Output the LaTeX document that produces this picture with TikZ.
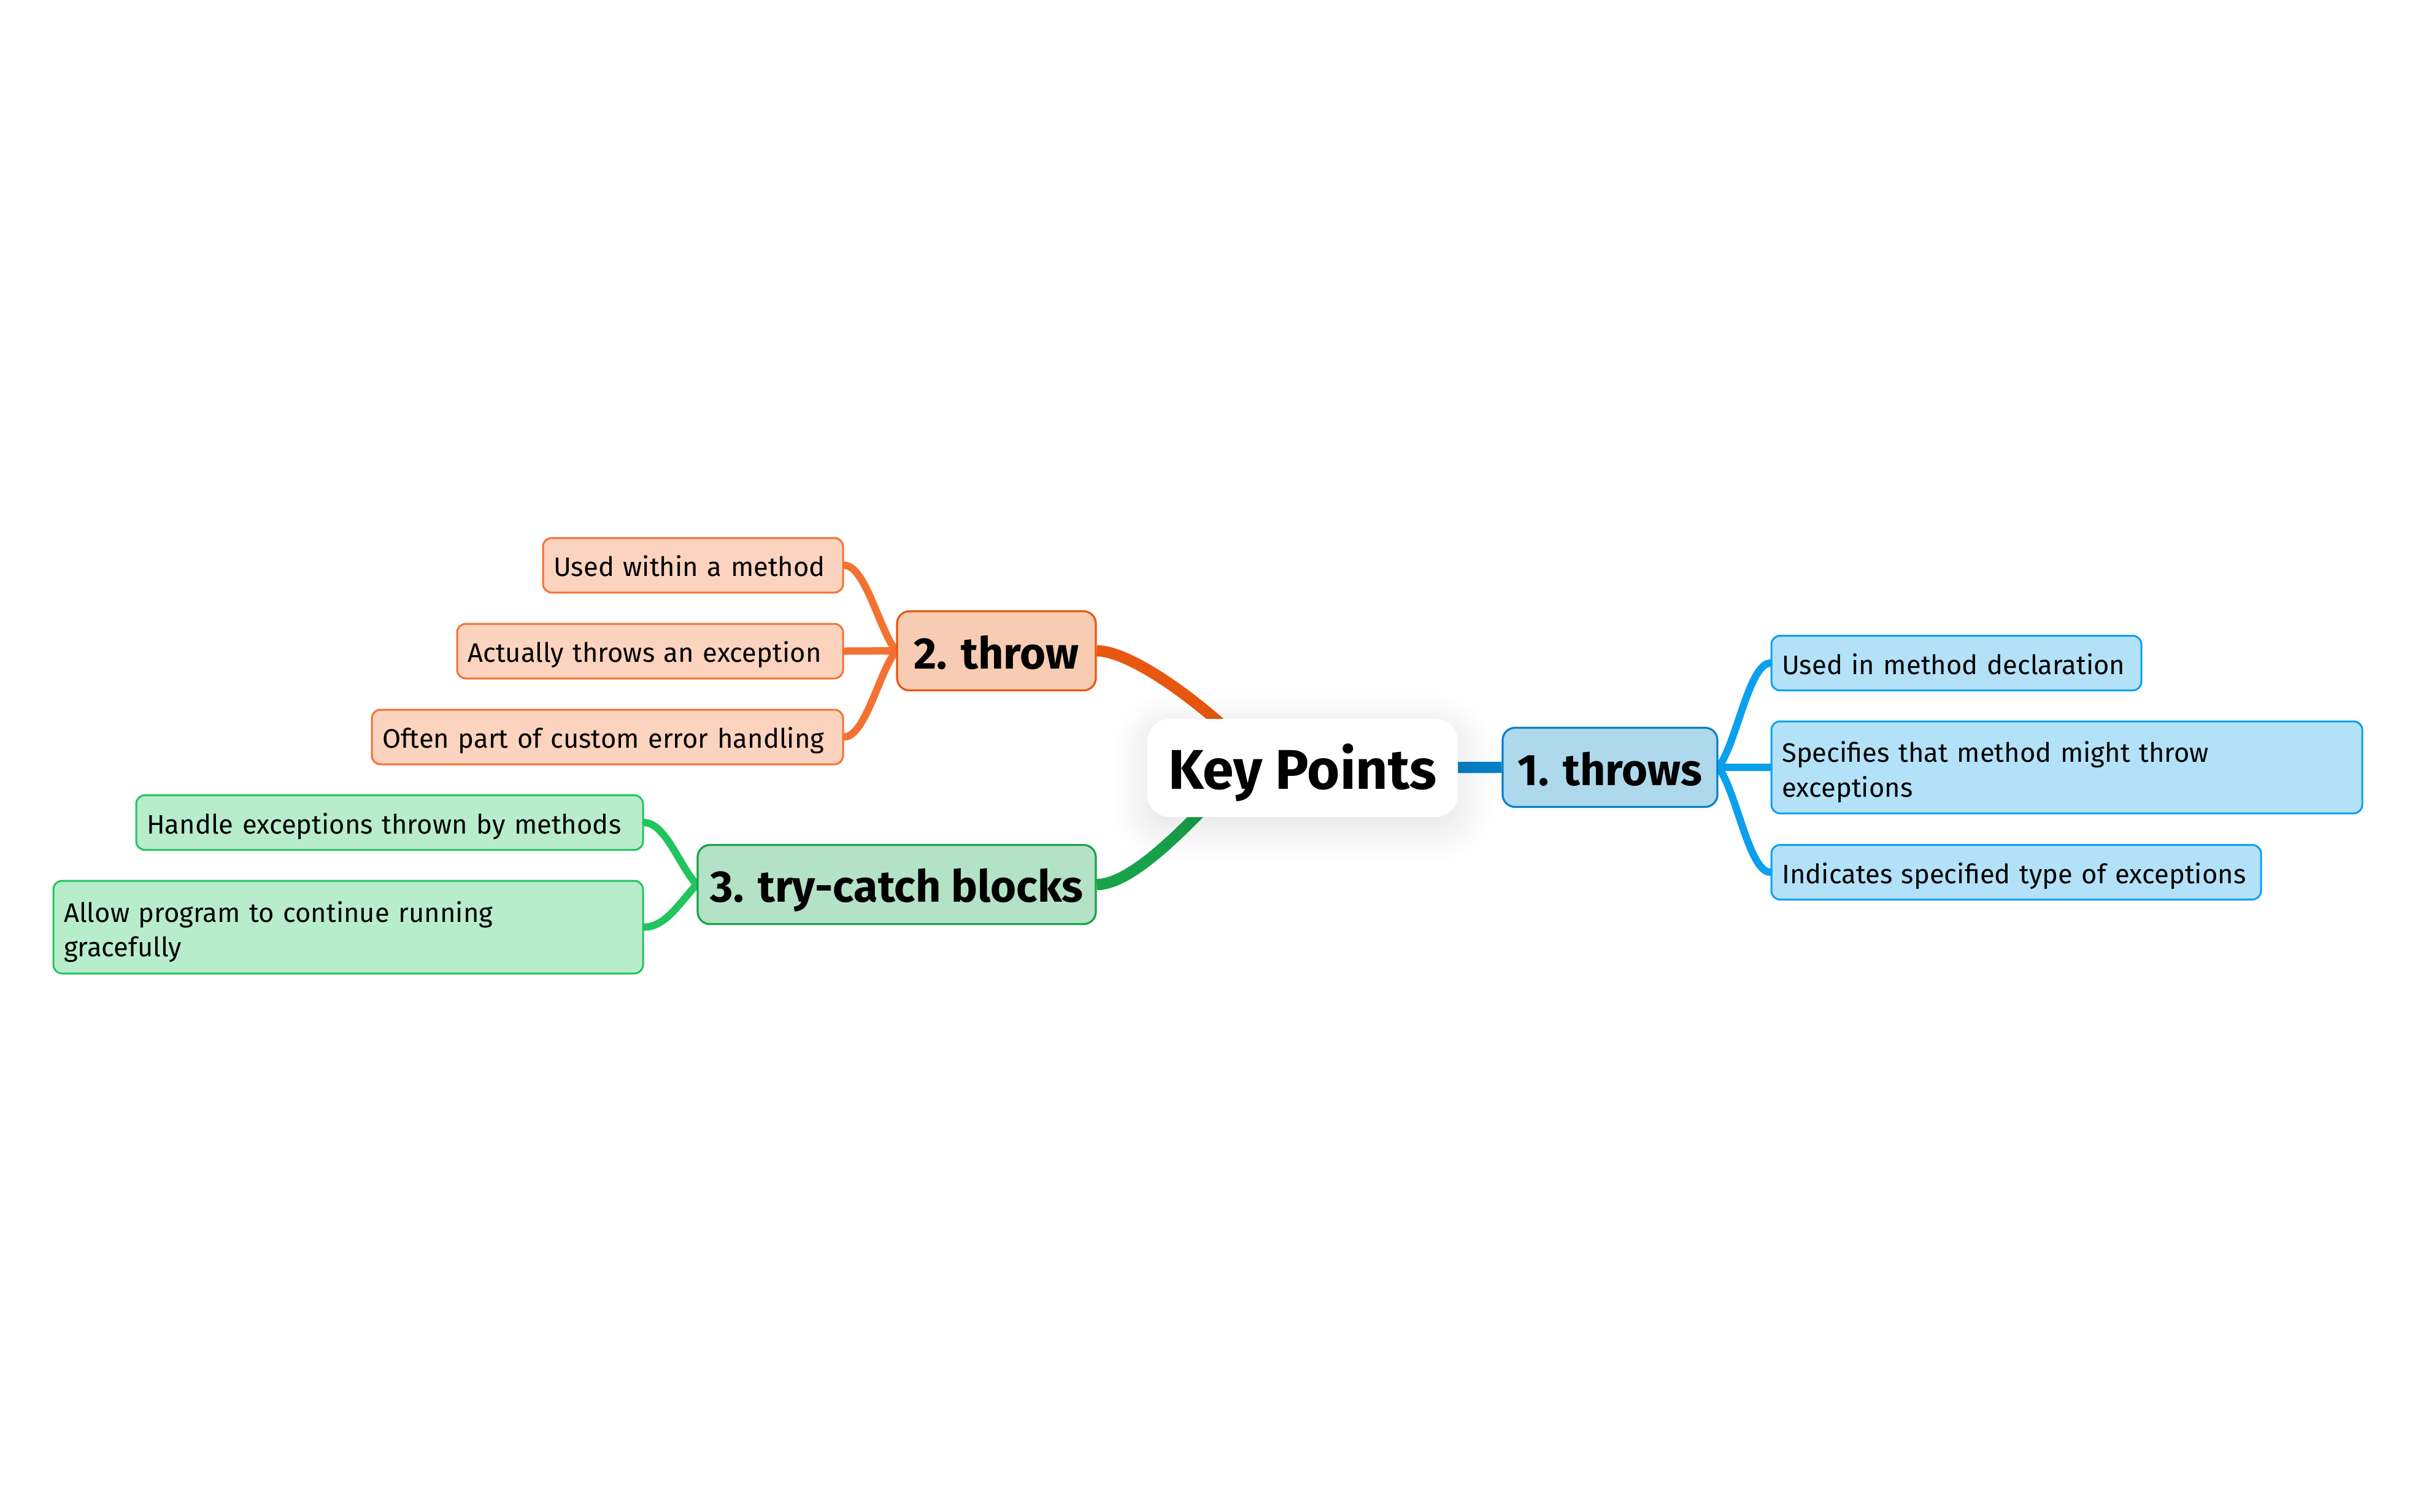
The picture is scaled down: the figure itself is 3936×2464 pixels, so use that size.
\documentclass[tikz,border=0pt]{standalone}
\usepackage{fontspec}
\setmainfont{Fira Sans}
\usetikzlibrary{shadows.blur}
\pgfdeclarelayer{bg}
\pgfsetlayers{bg,main}
\definecolor{oLeafFill}{HTML}{FBD3BE}
\definecolor{oLeafLine}{HTML}{F37232}
\definecolor{oMainFill}{HTML}{F8CCB2}
\definecolor{oMainLine}{HTML}{E8570F}
\definecolor{gLeafFill}{HTML}{B8EDCC}
\definecolor{gLeafLine}{HTML}{20C55D}
\definecolor{gMainFill}{HTML}{B4E2C6}
\definecolor{gMainLine}{HTML}{17A34A}
\definecolor{bLeafFill}{HTML}{B3E2F8}
\definecolor{bLeafLine}{HTML}{0BA0EC}
\definecolor{bMainFill}{HTML}{AED8EC}
\definecolor{bMainLine}{HTML}{0880C6}
\tikzset{
  leafbox/.style={draw, line width=0.75pt, rounded corners=3.5pt, inner xsep=4.3pt, inner ysep=0pt,
    align=left, font=\fontsize{10.9pt}{14.2pt}\selectfont, minimum height=22.25pt},
  oneline/.style={text height=9.2pt, text depth=0pt},
  oleaf/.style={leafbox, fill=oLeafFill, draw=oLeafLine},
  gleaf/.style={leafbox, fill=gLeafFill, draw=gLeafLine},
  bleaf/.style={leafbox, fill=bLeafFill, draw=bLeafLine},
  topicbox/.style={draw, line width=0.8pt, rounded corners=5pt, inner sep=0pt, minimum height=32.25pt,
    text height=14.8pt, text depth=0pt, font=\fontsize{18pt}{21pt}\selectfont\bfseries},
  keybox/.style={fill=white, rounded corners=9pt, inner sep=0pt, minimum width=126.5pt, minimum height=40pt,
    text height=17pt, text depth=0pt, font=\fontsize{22.8pt}{26pt}\selectfont\bfseries,
    blur shadow={shadow xshift=0pt, shadow yshift=-4pt, shadow blur radius=14pt, shadow opacity=12, shadow blur steps=12}},
  leafcon/.style={line width=3pt, line cap=round},
  maincon/.style={line width=4.6pt},
}
\begin{document}
\begin{tikzpicture}[x=0.25pt, y=-0.25pt]
\useasboundingbox (0,0) rectangle (3936,2464);
% central
\node[keybox] (key) at (2123,1252) {Key Points};
% topics
\node[topicbox, fill=bMainFill, draw=bMainLine, minimum width=87.5pt] (t1) at (2624,1251) {1. throws};
\node[topicbox, fill=oMainFill, draw=oMainLine, minimum width=81pt] (t2) at (1624,1061) {2. throw};
\node[topicbox, fill=gMainFill, draw=gMainLine, minimum width=162.25pt, text height=14pt] (t3) at (1461.5,1442) {3. try-catch blocks};
% orange leaves
\node[oleaf, oneline, text width=113.65pt] (o1) at (1129.5,921.5) {\mbox{Used within a method}};
\node[oleaf, oneline, text width=148.65pt] (o2) at (1059.5,1061.5) {\mbox{Actually throws an exception}};
\node[oleaf, oneline, text width=183.4pt] (o3) at (990,1201.5) {\mbox{Often part of custom error handling}};
% green leaves
\node[gleaf, oneline, text width=197.9pt] (g1) at (635,1341) {\mbox{Handle exceptions thrown by methods}};
\node[gleaf, text width=231.65pt, minimum height=37.75pt] (g2) at (567.5,1511.5) {\rule{0pt}{12.3pt}\mbox{Allow program to continue running}\\gracefully};
% blue leaves
\node[bleaf, oneline, text width=142.15pt] (b1) at (3188.5,1081) {\mbox{Used in method declaration}};
\node[bleaf, text width=232.15pt, minimum height=37.5pt] (b2) at (3368.5,1251) {\rule{0pt}{12.3pt}\mbox{Specifies that method might throw}\\exceptions};
\node[bleaf, oneline, text width=190.9pt] (b3) at (3286,1422) {\mbox{Indicates specified type of exceptions}};
\begin{pgfonlayer}{bg}
  % main connectors
  \draw[maincon, draw=bMainLine] (key.center) -- (t1.west);
  \draw[maincon, draw=oMainLine] (t2.east) .. controls +(60,0) and +(-83,-92) .. ([xshift=-15pt]key.center);
  \draw[maincon, draw=gMainLine] (t3.east) .. controls +(60,0) and +(-80,88) .. ([xshift=-25pt]key.center);
  % orange leaf connectors
  \draw[leafcon, draw=oLeafLine] (t2.west) .. controls +(-28,-35) and +(35,0) .. (o1.east);
  \draw[leafcon, draw=oLeafLine] (t2.west) -- (o2.east);
  \draw[leafcon, draw=oLeafLine] (t2.west) .. controls +(-28,35) and +(35,0) .. (o3.east);
  % green leaf connectors
  \draw[leafcon, draw=gLeafLine] (t3.west) .. controls +(-28,-30) and +(35,0) .. (g1.east);
  \draw[leafcon, draw=gLeafLine] (t3.west) .. controls +(-28,30) and +(35,0) .. (g2.east);
  % blue leaf connectors
  \draw[leafcon, draw=bLeafLine] (t1.east) .. controls +(30,-40) and +(-35,0) .. (b1.west);
  \draw[leafcon, draw=bLeafLine] (t1.east) -- (b2.west);
  \draw[leafcon, draw=bLeafLine] (t1.east) .. controls +(30,40) and +(-35,0) .. (b3.west);
\end{pgfonlayer}
\end{tikzpicture}
\end{document}
